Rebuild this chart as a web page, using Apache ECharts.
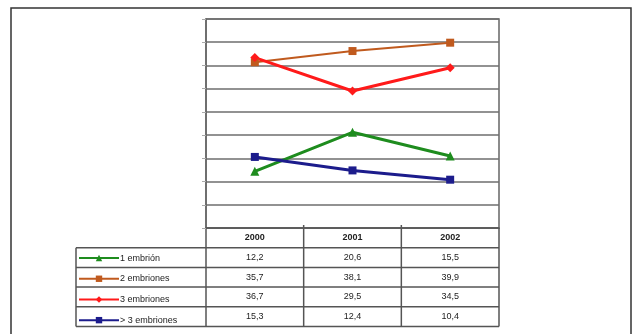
<!DOCTYPE html>
<html>
<head>
<meta charset="utf-8">
<script src="https://cdn.jsdelivr.net/npm/echarts@6/dist/echarts.min.js"></script>
<style>
html,body{margin:0;padding:0;background:#fff;}
#c{width:632px;height:334px;}
</style>
</head>
<body>
<div id="c"></div>
<script>
// ---- data ----
const categories = ['2000', '2001', '2002'];
const seriesNames = ['1 embrión', '2 embriones', '3 embriones', '> 3 embriones'];
const oneEmbryo = [12.2, 20.6, 15.5];
const twoEmbryos = [35.7, 38.1, 39.9];
const threeEmbryos = [36.7, 29.5, 34.5];
const moreThanThree = [15.3, 12.4, 10.4];
const yMin = 0, yMax = 45, yStep = 5;

// ---- layout / style ----
const W = 632, H = 334;
const gLeft = 206, gRight = 499, gTop = 19, gBottom = 228;
const rowH = 19.7;
const tableLeft = 76;
const colors = ['#1e8c1e', '#c05a1e', '#ff1a1a', '#1c1c8c'];
const symbols = ['triangle', 'rect', 'diamond', 'rect'];
const symSizes = [9, 8, 9, 8];
const lineWidths = [3, 2, 3, 3];
const allData = [oneEmbryo, twoEmbryos, threeEmbryos, moreThanThree];
const font = 'Liberation Sans, Arial, sans-serif';

const fmt = v => v.toFixed(1).replace('.', ',');

const chart = echarts.init(document.getElementById('c'), null, {renderer: 'canvas'});

const series = seriesNames.map((name, i) => ({
  name: name,
  type: 'line',
  data: allData[i],
  symbol: symbols[i],
  symbolSize: symSizes[i],
  showAllSymbol: true,
  lineStyle: {color: colors[i], width: lineWidths[i]},
  itemStyle: {color: colors[i]},
  emphasis: {disabled: true},
  animation: false
}));

// table graphics
const graphics = [];
const colW = (gRight - gLeft) / categories.length;
const lineStyle = {stroke: '#555', lineWidth: 1.5};
const tableBottom = gBottom + rowH * (seriesNames.length + 1);
// horizontal lines
for (let r = 1; r <= seriesNames.length + 1; r++) {
  const y = gBottom + rowH * r;
  graphics.push({type: 'line', shape: {x1: tableLeft, y1: y, x2: gRight, y2: y}, style: lineStyle, silent: true});
}
// vertical lines
graphics.push({type: 'line', shape: {x1: tableLeft, y1: gBottom + rowH, x2: tableLeft, y2: tableBottom}, style: lineStyle, silent: true});
for (let c = 0; c <= categories.length; c++) {
  const x = gLeft + colW * c;
  graphics.push({type: 'line', shape: {x1: x, y1: gBottom - (c > 0 && c < categories.length ? 3 : 0), x2: x, y2: tableBottom}, style: lineStyle, silent: true});
}
// header texts
categories.forEach((cat, c) => {
  graphics.push({type: 'text', x: gLeft + colW * (c + 0.5), y: gBottom + rowH * 0.5,
    style: {text: cat, font: 'bold 9px ' + font, fill: '#222', align: 'center', verticalAlign: 'middle'}, silent: true});
});
// value texts
allData.forEach((arr, r) => {
  arr.forEach((v, c) => {
    graphics.push({type: 'text', x: gLeft + colW * (c + 0.5), y: gBottom + rowH * (r + 1.5),
      style: {text: fmt(v), font: '9px ' + font, fill: '#222', align: 'center', verticalAlign: 'middle'}, silent: true});
  });
});
// outer border
graphics.push({type: 'rect', shape: {x: 11, y: 8, width: 620, height: 340}, style: {fill: null, stroke: '#333', lineWidth: 1.5}, silent: true, z: 100});

chart.setOption({
  backgroundColor: '#fff',
  animation: false,
  grid: {left: gLeft, top: gTop, right: W - gRight, bottom: H - gBottom, show: true, borderColor: '#666', borderWidth: 1.5},
  xAxis: {
    type: 'category', data: categories, boundaryGap: true,
    axisLine: {show: true, lineStyle: {color: '#555', width: 1.5}},
    axisTick: {show: false},
    axisLabel: {show: false},
    splitLine: {show: false}
  },
  yAxis: {
    type: 'value', min: yMin, max: yMax, interval: yStep,
    axisLine: {show: true, lineStyle: {color: '#666', width: 1.5}},
    axisTick: {show: true, length: 4, lineStyle: {color: '#aaa'}},
    axisLabel: {show: false},
    splitLine: {show: true, lineStyle: {color: '#6e6e6e', width: 1.5}}
  },
  legend: {
    orient: 'vertical', left: tableLeft + 2, top: gBottom + rowH + (rowH - 8) / 2,
    itemWidth: 40, itemHeight: 8, itemGap: rowH - 8,
    textStyle: {fontSize: 9, fontFamily: font, color: '#222', padding: [0, 0, 0, -4]},
    padding: 0, selectedMode: false,
    data: seriesNames
  },
  graphic: graphics,
  series: series
});
</script>
</body>
</html>
